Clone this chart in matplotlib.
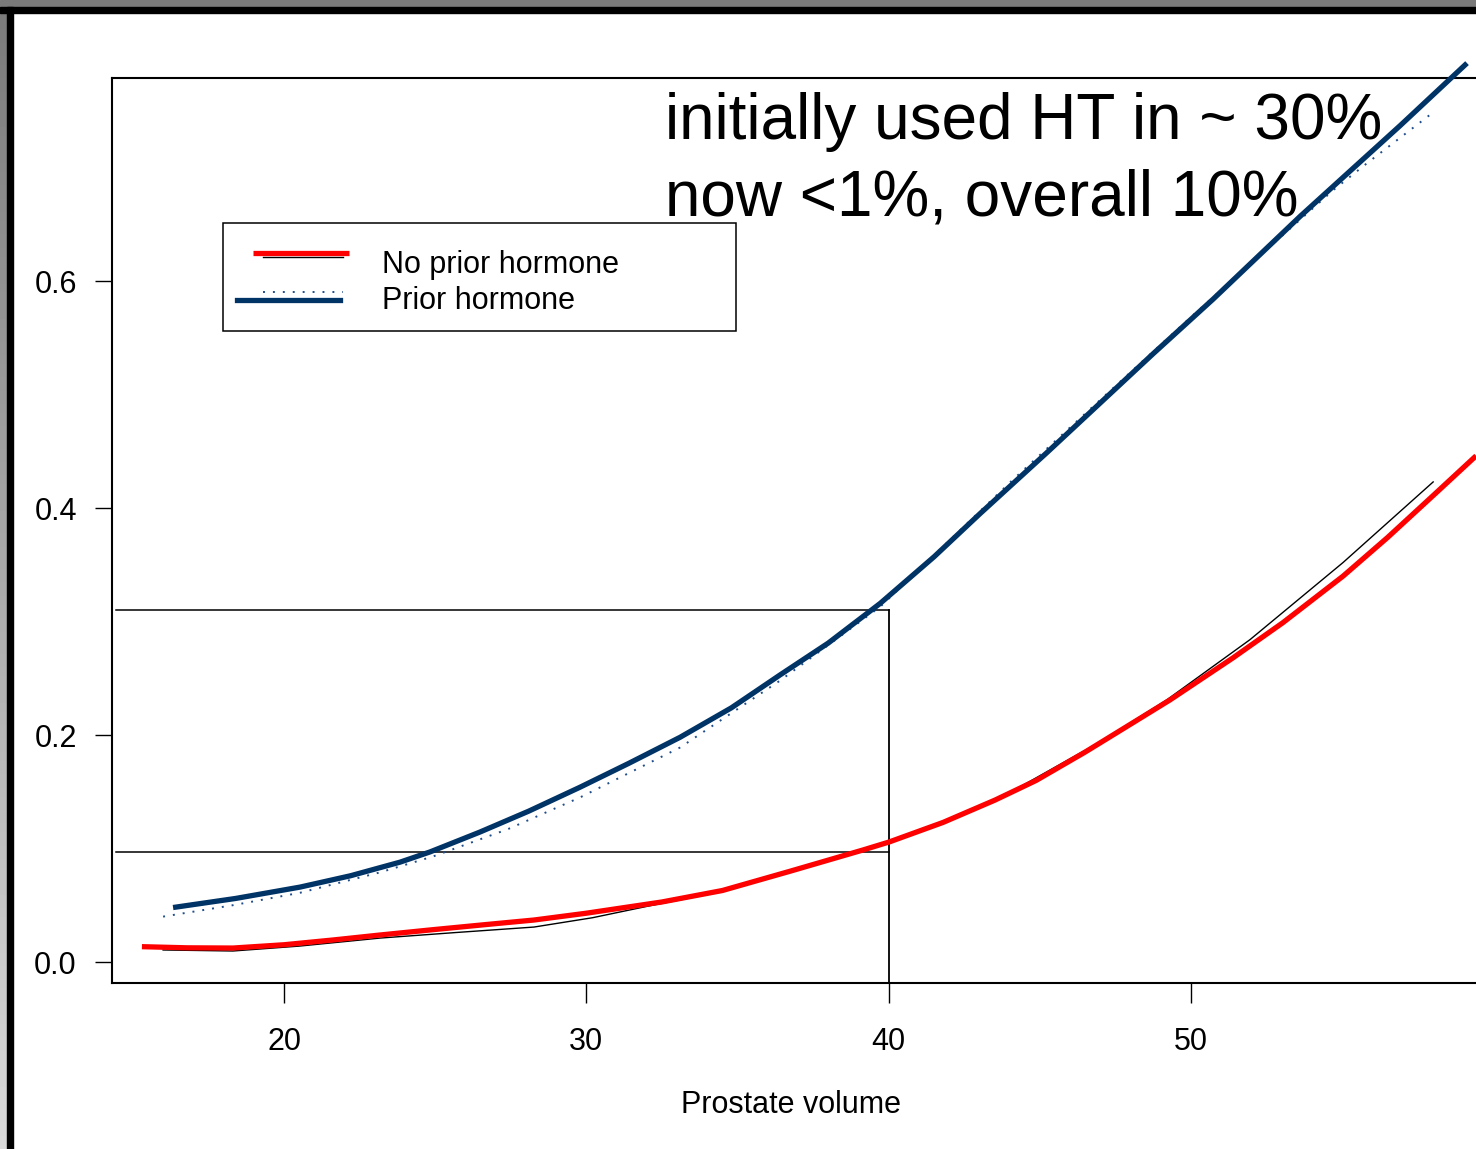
import matplotlib.pyplot as plt
import numpy as np
from matplotlib.lines import Line2D
from matplotlib.patches import Rectangle

plt.rcParams['font.family'] = ['Liberation Sans', 'DejaVu Sans']

# Prior hormone: thick fitted curve
prior_x = [16.33, 18.4, 20.53, 22.2, 23.84, 24.83, 26.48, 28.1, 29.79, 31.4, 33.10,
           34.8, 36.41, 38.0, 39.72, 41.5, 43.02, 45.24, 46.33, 48.75, 50.73,
           53.61, 56.92, 59.13]
prior_y = [0.048, 0.056, 0.066, 0.076, 0.088, 0.097, 0.1145, 0.133, 0.154, 0.175, 0.198,
           0.224, 0.253, 0.281, 0.316, 0.357, 0.395, 0.449, 0.476, 0.536, 0.584,
           0.657, 0.737, 0.792]

# Prior hormone: dotted curve
prior2_x = [16.0, 18.3, 20.53, 23.18, 24.93, 27.4, 29.79, 33.10, 36.41, 39.72, 44.11,
            50.07, 54.70, 55.83, 57.98]
prior2_y = [0.040, 0.050, 0.061, 0.079, 0.093, 0.117, 0.145, 0.189, 0.248, 0.313, 0.425,
            0.570, 0.680, 0.704, 0.748]

# No prior hormone: thick red curve
noprior_x = [15.30, 16.8, 18.31, 20.0, 21.62, 23.18, 24.93, 26.6, 28.27, 30.0, 32.50,
             34.5, 36.74, 39.15, 40.01, 41.8, 43.52, 44.88, 46.5, 48.09, 49.31, 51.39,
             53.04, 55.03, 56.5, 58.01, 59.43]
noprior_y = [0.0135, 0.0125, 0.0123, 0.0152, 0.0194, 0.0238, 0.0285, 0.0328, 0.037, 0.043,
             0.0529, 0.063, 0.080, 0.0987, 0.1057, 0.123, 0.1427, 0.160, 0.185, 0.211,
             0.231, 0.268, 0.299, 0.340, 0.374, 0.411, 0.446]

# No prior hormone: thin black curve
noprior2_x = [16.0, 18.31, 20.5, 23.18, 25.7, 28.27, 30.2, 32.0, 34.5, 36.74, 40.01,
              43.52, 47.0, 49.2, 51.95, 55.03, 58.01]
noprior2_y = [0.0106, 0.0097, 0.014, 0.0211, 0.026, 0.0308, 0.039, 0.049, 0.062, 0.079,
              0.105, 0.142, 0.194, 0.231, 0.284, 0.352, 0.423]

# reference lines
ref_x = 40
ref_levels = [0.31, 0.097]
ref_start = 14.44

xticks = [20, 30, 40, 50]
yticks = [0.0, 0.2, 0.4, 0.6]

navy = '#003366'
red = '#ff0000'
dot_blue = '#1f4e8c'
dots = (0, (1, 4.1))


class PairHandler:
    # draws two overlapping legend lines, slightly offset like the R legend
    def __init__(self, specs):
        self.specs = specs

    def legend_artist(self, legend, orig_handle, fontsize, handlebox):
        x0, y0 = handlebox.xdescent, handlebox.ydescent
        w, h = handlebox.width, handlebox.height
        art = None
        for a, b, dy, kw in self.specs:
            art = Line2D([x0 + a * w, x0 + b * w], [y0 + h / 2 + dy] * 2, **kw)
            handlebox.add_artist(art)
        return art


W, H = 1476, 1149
fig = plt.figure(figsize=(W / 100, H / 100), dpi=100)

# axes box (right edge runs off the image, like the cropped original)
ax = fig.add_axes([112 / W, 1 - 983 / H, (1490 - 112) / W, (983 - 78) / H])
ax.set_xlim(14.31, 59.89)
ax.set_ylim(-0.0185, 0.7789)

ax.plot(noprior2_x, noprior2_y, color='black', lw=1.0, zorder=3)
ax.plot(noprior_x, noprior_y, color=red, lw=3.8, zorder=4, clip_on=False,
        solid_capstyle='butt')
ax.plot(prior2_x, prior2_y, color=dot_blue, lw=1.4, ls=dots, zorder=3)
ax.plot(prior_x, prior_y, color=navy, lw=3.8, zorder=4, clip_on=False,
        solid_capstyle='butt')

# reference lines at x = 40
for lvl in ref_levels:
    ax.plot([ref_start, ref_x], [lvl, lvl], color='black', lw=1.1, zorder=2)
ax.plot([ref_x, ref_x], [max(ref_levels), -0.0185], color='black', lw=1.3,
        zorder=2, clip_on=False)

for s in ax.spines.values():
    s.set_linewidth(1.5)
ax.set_xticks(xticks)
ax.set_xticklabels([str(v) for v in xticks])
ax.set_yticks(yticks)
ax.set_yticklabels(['%.1f' % v for v in yticks])
ax.tick_params(axis='x', length=14.5, width=1.0, pad=17, labelsize=22)
ax.tick_params(axis='y', length=12.3, width=1.0, pad=13, labelsize=22)

fig.text(791 / W, 1 - 1105 / H, 'Prostate volume', ha='center', va='center',
         fontsize=22)

# annotation
fig.text(665 / W, 1 - 139 / H, 'initially used HT in ~ 30%', fontsize=46,
         ha='left', va='baseline')
fig.text(665 / W, 1 - 215 / H, 'now <1%, overall 10%', fontsize=46,
         ha='left', va='baseline')

# legend
h1, h2 = object(), object()
spec1 = [(0.23, 0.95, 3.6, dict(color='black', lw=1.0)),
         (0.14, 1.0, 6.5, dict(color=red, lw=3.8, solid_capstyle='butt'))]
spec2 = [(0.23, 0.95, 4.3, dict(color=dot_blue, lw=1.4, ls=dots)),
         (0.0, 0.92, -1.4, dict(color=navy, lw=3.8))]
fig.legend([h1, h2], ['No prior hormone', 'Prior hormone'],
           handler_map={h1: PairHandler(spec1), h2: PairHandler(spec2)},
           loc='upper left', bbox_to_anchor=(237 / W, 1 - 250 / H),
           frameon=False, borderpad=0, borderaxespad=0, fontsize=22,
           handlelength=3.66, handletextpad=1.08, labelspacing=0.18)
fig.patches.append(Rectangle((223 / W, 1 - 331 / H), (736 - 223) / W, (331 - 223) / H,
                             transform=fig.transFigure, fill=False,
                             edgecolor='black', lw=1.1, zorder=5))

# screenshot border: gray strips and black frame lines
grad = fig.add_axes([0, 0, 7 / W, 1 - 7 / H])
grad.imshow(np.linspace(0, 1, 256).reshape(-1, 1), aspect='auto', cmap='gray',
            vmin=-1.3, vmax=1.4, extent=[0, 1, 0, 1], origin='upper')
grad.set_axis_off()
fig.patches.append(Rectangle((0, 1 - 7 / H), 1, 7 / H, transform=fig.transFigure,
                             color='#7a7a7a', zorder=6))
fig.patches.append(Rectangle((0, 1 - 12.5 / H), 1, 5.5 / H, transform=fig.transFigure,
                             color='black', zorder=7))
fig.patches.append(Rectangle((7 / W, 0), 5.5 / W, 1 - 7 / H, transform=fig.transFigure,
                             color='black', zorder=7))

fig.savefig('out.png', dpi=100)
